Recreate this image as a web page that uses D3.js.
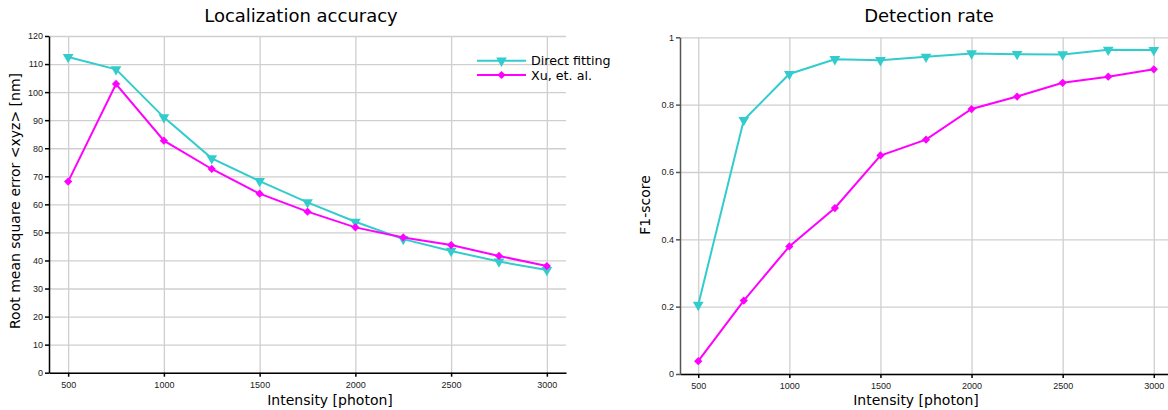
<!DOCTYPE html>
<html>
<head>
<meta charset="utf-8">
<script src="https://cdn.jsdelivr.net/npm/d3@7"></script>
<style>
  body { margin: 0; background: #fff; }
  svg { font-family: "DejaVu Sans", sans-serif; }
  .grid line { stroke: #cfcfcf; stroke-width: 1.3; }
  .grid .domain { display: none; }
  .axis text { font-size: 9px; fill: #222; }
</style>
</head>
<body>
<div id="chart"></div>
<script>
// data
var intensity = [500, 750, 1000, 1250, 1500, 1750, 2000, 2250, 2500, 2750, 3000];
var xTicks = [500, 1000, 1500, 2000, 2500, 3000];

var rmseDirect = [112.5, 108.1, 91.0, 76.4, 68.3, 60.7, 53.8, 47.6, 43.4, 39.6, 36.6];
var rmseXu     = [68.1, 102.9, 82.7, 72.6, 63.8, 57.4, 51.8, 48.2, 45.5, 41.6, 38.0];
var rmseTicks  = [0, 10, 20, 30, 40, 50, 60, 70, 80, 90, 100, 110, 120];

var f1Direct = [0.205, 0.754, 0.891, 0.935, 0.932, 0.942, 0.952, 0.950, 0.949, 0.963, 0.962];
var f1Xu     = [0.038, 0.218, 0.379, 0.493, 0.649, 0.696, 0.787, 0.824, 0.865, 0.883, 0.905];
var f1Ticks  = [0, 0.2, 0.4, 0.6, 0.8, 1];
var f1Labels = ["0", "0.2", "0.4", "0.6", "0.8", "1"];

var seriesNames = ["Direct fitting", "Xu, et. al."];
var cyan = "#33cccc", magenta = "#ff00ff";

var svg = d3.select("#chart")
  .append("svg")
    .attr("width", 1168)
    .attr("height", 410);

var triangle = d3.symbol().type(d3.symbolTriangle).size(50);
var diamond = d3.symbol().type(d3.symbolSquare).size(34);

// draws one panel
function panel(opt) {
  var x = d3.scaleLinear().domain([400, 3100]).range([opt.left, opt.right]);
  var y = d3.scaleLinear().domain(opt.yDomain).range([opt.bottom, opt.top]);

  // grid
  svg.append("g")
    .attr("class", "grid")
    .attr("transform", "translate(0," + opt.bottom + ")")
    .call(d3.axisBottom(x).tickValues(xTicks).tickSize(-(opt.bottom - opt.top)).tickFormat(""));
  svg.append("g")
    .attr("class", "grid")
    .attr("transform", "translate(" + opt.left + ",0)")
    .call(d3.axisLeft(y).tickValues(opt.yTicks).tickSize(-(opt.right - opt.left)).tickFormat(""));

  // axes
  svg.append("g")
    .attr("class", "axis")
    .attr("transform", "translate(0," + opt.bottom + ")")
    .call(d3.axisBottom(x).tickValues(xTicks).tickSize(4).tickSizeOuter(0).tickPadding(5).tickFormat(d3.format("d")))
    .call(function(g) { g.selectAll("line, .domain").attr("stroke", "#000").attr("stroke-width", 1.5); });
  svg.append("g")
    .attr("class", "axis")
    .attr("transform", "translate(" + opt.left + ",0)")
    .call(d3.axisLeft(y).tickValues(opt.yTicks).tickSize(4).tickSizeOuter(0).tickPadding(2)
      .tickFormat(function(d, i) { return opt.yLabels ? opt.yLabels[i] : d; }))
    .call(function(g) { g.selectAll("line, .domain").attr("stroke", opt.yAxisColor).attr("stroke-width", 1.5); });

  // title and labels
  svg.append("text")
    .attr("x", opt.titleX)
    .attr("y", 22)
    .attr("text-anchor", "middle")
    .style("font-size", "18px")
    .text(opt.title);
  svg.append("text")
    .attr("x", opt.xLabelX)
    .attr("y", 405)
    .attr("text-anchor", "middle")
    .style("font-size", "14px")
    .text("Intensity [photon]");
  svg.append("text")
    .attr("transform", "translate(" + opt.yLabelX + "," + opt.yLabelY + ") rotate(-90)")
    .attr("text-anchor", "middle")
    .style("font-size", "14px")
    .text(opt.yLabel);

  var line = d3.line()
    .x(function(d, i) { return x(intensity[i]); })
    .y(function(d) { return y(d); });

  // direct fitting
  svg.append("path")
    .datum(opt.direct)
    .attr("fill", "none")
    .attr("stroke", cyan)
    .attr("stroke-width", 2)
    .attr("d", line);
  svg.append("g")
    .selectAll("path")
    .data(opt.direct)
    .enter()
    .append("path")
      .attr("d", triangle)
      .attr("fill", cyan)
      .attr("transform", function(d, i) { return "translate(" + x(intensity[i]) + "," + y(d) + ") rotate(180)"; });

  // Xu et al
  svg.append("path")
    .datum(opt.xu)
    .attr("fill", "none")
    .attr("stroke", magenta)
    .attr("stroke-width", 2)
    .attr("d", line);
  svg.append("g")
    .selectAll("path")
    .data(opt.xu)
    .enter()
    .append("path")
      .attr("d", diamond)
      .attr("fill", magenta)
      .attr("transform", function(d, i) { return "translate(" + x(intensity[i]) + "," + y(d) + ") rotate(45)"; });
}

panel({
  left: 49, right: 566, top: 36, bottom: 372.7,
  yDomain: [0, 120], yTicks: rmseTicks, yAxisColor: "#000",
  direct: rmseDirect, xu: rmseXu,
  title: "Localization accuracy", titleX: 301,
  xLabelX: 330, yLabel: "Root mean square error <xyz> [nm]", yLabelX: 20, yLabelY: 201
});

panel({
  left: 680, right: 1172, top: 37.3, bottom: 374,
  yDomain: [0, 1], yTicks: f1Ticks, yLabels: f1Labels, yAxisColor: "#555",
  direct: f1Direct, xu: f1Xu,
  title: "Detection rate", titleX: 929,
  xLabelX: 916, yLabel: "F1-score", yLabelX: 650, yLabelY: 205
});

// legend
var legend = svg.append("g");
var legendColors = [cyan, magenta];
var legendSymbols = [triangle, diamond];
var legendRot = [180, 45];
seriesNames.forEach(function(name, i) {
  var ly = 60.7 + i * 14.3;
  legend.append("line")
    .attr("x1", 477).attr("x2", 526)
    .attr("y1", ly).attr("y2", ly)
    .attr("stroke", legendColors[i])
    .attr("stroke-width", 2);
  legend.append("path")
    .attr("d", legendSymbols[i])
    .attr("fill", legendColors[i])
    .attr("transform", "translate(501.5," + ly + ") rotate(" + legendRot[i] + ")");
  legend.append("text")
    .attr("x", 531)
    .attr("y", ly + 4.5)
    .style("font-size", "12.7px")
    .text(name);
});
</script>
</body>
</html>
